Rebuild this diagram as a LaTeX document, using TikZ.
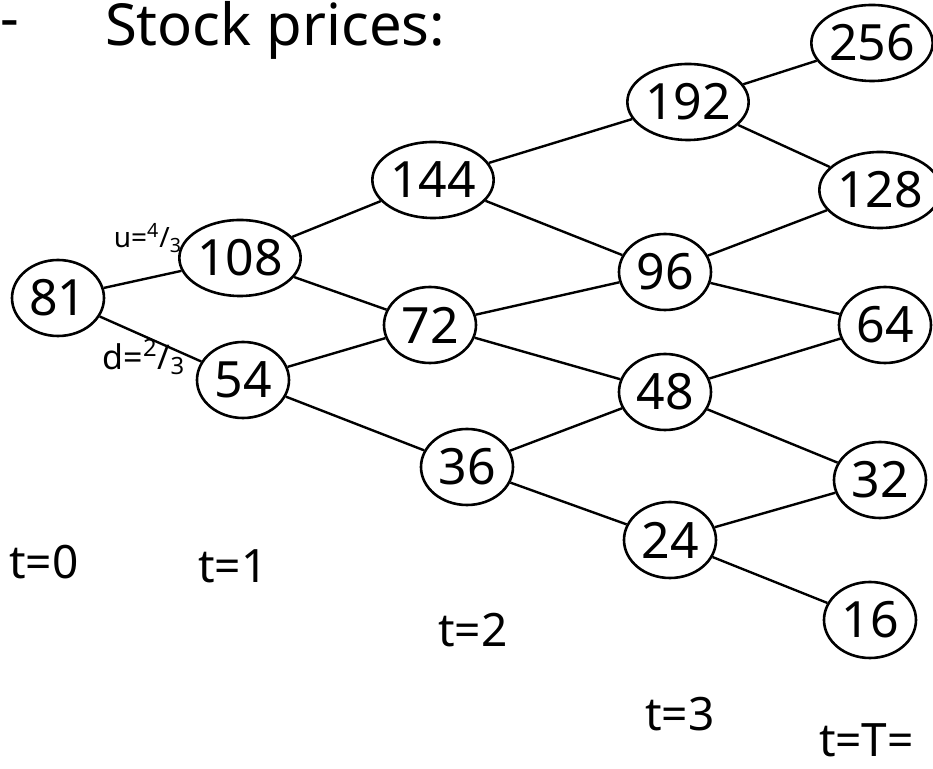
\documentclass[tikz,border=0pt]{standalone}
\usepackage{fontspec}
\setmainfont{Noto Sans}
\usetikzlibrary{shapes.geometric,positioning}

\begin{document}
\begin{tikzpicture}[
  x=0.5pt, y=-0.5pt,
  price/.style={draw, ellipse, line width=1.3pt, minimum width=46pt, minimum height=38pt, inner sep=0pt, font=\fontsize{25}{29}\selectfont},
  edge/.style={line width=1.2pt},
  lbl/.style={font=\fontsize{14}{16}\selectfont, inner sep=1pt},
  tlbl/.style={font=\fontsize{23}{26}\selectfont}
]
  \useasboundingbox (0,0) rectangle (933,769);
  % title
  \node[anchor=west, font=\fontsize{29}{32}\selectfont] (title) at (98,30) {Stock prices:};
  \node[font=\fontsize{29}{32}\selectfont] (dash) at (10,30) {-};
  % t = 0, 1
  \node[price] (s0) at (58,298) {81};
  \node[price] (u1) at (240,258) {108};
  \node[price] (d1) at (243,380) {54};
  % t = 2
  \node[price] (uu2) at (433,180) {144};
  \node[price] (ud2) at (430,325) {72};
  \node[price] (dd2) at (467,467) {36};
  % t = 3
  \node[price] (uuu3) at (688,102) {192};
  \node[price] (uud3) at (665,272) {96};
  \node[price] (udd3) at (665,392) {48};
  \node[price] (ddd3) at (670,540) {24};
  % t = T
  \node[price] (u4) at (872,43) {256};
  \node[price] (uud4) at (880,190) {128};
  \node[price] (udd4) at (885,325) {64};
  \node[price] (uddd4) at (880,480) {32};
  \node[price] (d4) at (870,620) {16};
  % branches
  \draw[edge] (s0) -- (u1);
  \draw[edge] (s0) -- (d1);
  \draw[edge] (u1) -- (uu2);
  \draw[edge] (u1) -- (ud2);
  \draw[edge] (d1) -- (ud2);
  \draw[edge] (d1) -- (dd2);
  \draw[edge] (uu2) -- (uuu3);
  \draw[edge] (uu2) -- (uud3);
  \draw[edge] (ud2) -- (uud3);
  \draw[edge] (ud2) -- (udd3);
  \draw[edge] (dd2) -- (udd3);
  \draw[edge] (dd2) -- (ddd3);
  \draw[edge] (uuu3) -- (u4);
  \draw[edge] (uuu3) -- (uud4);
  \draw[edge] (uud3) -- (uud4);
  \draw[edge] (uud3) -- (udd4);
  \draw[edge] (udd3) -- (udd4);
  \draw[edge] (udd3) -- (uddd4);
  \draw[edge] (ddd3) -- (uddd4);
  \draw[edge] (ddd3) -- (d4);
  % factors
  \node[lbl] (up) at (148,238) {u=\textsuperscript{4}/\textsubscript{3}};
  \node[lbl, font=\fontsize{17}{20}\selectfont] (down) at (144,357) {d=\textsuperscript{2}/\textsubscript{3}};
  % time steps
  \node[tlbl] (t0) at (44,562) {t=0};
  \node[tlbl] (t1) at (233,566) {t=1};
  \node[tlbl] (t2) at (473,630) {t=2};
  \node[tlbl] (t3) at (680,714) {t=3};
  \node[tlbl, anchor=west] (tT) at (812,740) {t=T=};
\end{tikzpicture}
\end{document}
